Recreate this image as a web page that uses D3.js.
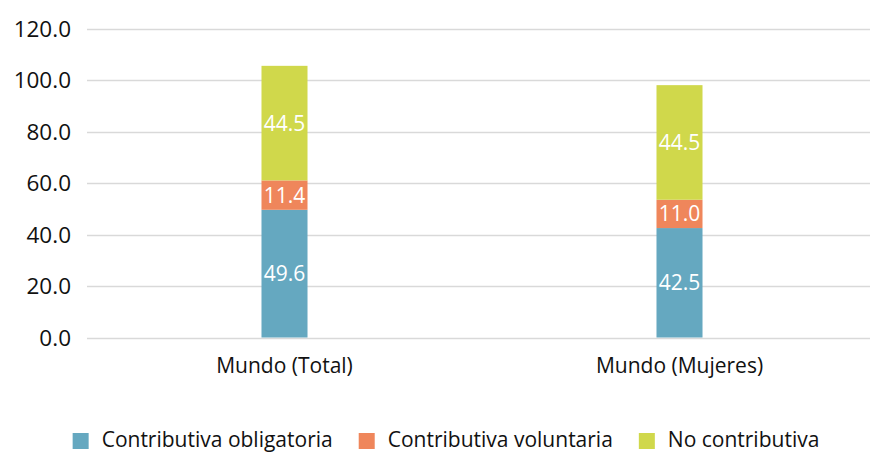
<!DOCTYPE html>
<html>
<head>
<meta charset="utf-8">
<script src="https://cdn.jsdelivr.net/npm/d3@7"></script>
<style>
  body { margin: 0; background: #fff; }
  svg { display: block; font-family: "Open Sans", "Noto Sans", sans-serif; }
</style>
</head>
<body>
<svg id="chart" width="870" height="453"></svg>
<script>
// data
const categories = ["Mundo (Total)", "Mundo (Mujeres)"];
const seriesNames = ["Contributiva obligatoria", "Contributiva voluntaria", "No contributiva"];
const obligatoria = [49.6, 42.5];
const voluntaria = [11.4, 11.0];
const noContributiva = [44.5, 44.5];
const yTicks = [0, 20, 40, 60, 80, 100, 120];

const colors = ["#65a8c0", "#ef865b", "#d0d84b"];

const rows = categories.map((c, i) => ({
  cat: c,
  [seriesNames[0]]: obligatoria[i],
  [seriesNames[1]]: voluntaria[i],
  [seriesNames[2]]: noContributiva[i]
}));

const svg = d3.select("#chart");

const x = d3.scaleBand()
  .domain(categories)
  .range([87, 877])
  .paddingInner(0.8835)
  .paddingOuter(0.8835 / 2);

const y = d3.scaleLinear().domain([0, 120]).range([337.5, 28.5]);

const color = d3.scaleOrdinal().domain(seriesNames).range(colors);

// gridlines
svg.append("g")
  .selectAll("line")
  .data(yTicks)
  .join("line")
  .attr("x1", 87)
  .attr("x2", 870)
  .attr("y1", d => Math.round(y(d)) + 0.5)
  .attr("y2", d => Math.round(y(d)) + 0.5)
  .attr("stroke", "#d9d9d9")
  .attr("stroke-width", 1.3);

// y tick labels
svg.append("g")
  .selectAll("text")
  .data(yTicks)
  .join("text")
  .attr("x", 71)
  .attr("y", d => y(d) + 8)
  .attr("text-anchor", "end")
  .attr("font-size", 22.5)
  .attr("fill", "#111")
  .text(d => d3.format(".1f")(d));

// stacked bars
const stacked = d3.stack().keys(seriesNames)(rows);

const layer = svg.append("g")
  .selectAll("g")
  .data(stacked)
  .join("g")
  .attr("fill", d => color(d.key));

layer.selectAll("rect")
  .data(d => d)
  .join("rect")
  .attr("x", d => x(d.data.cat))
  .attr("width", x.bandwidth())
  .attr("y", d => y(d[1]))
  .attr("height", d => y(d[0]) - y(d[1]));

layer.selectAll("text")
  .data(d => d)
  .join("text")
  .attr("x", d => x(d.data.cat) + x.bandwidth() / 2)
  .attr("y", d => (y(d[0]) + y(d[1])) / 2 + 7.5)
  .attr("text-anchor", "middle")
  .attr("font-size", 21)
  .attr("fill", "#fff")
  .text(d => d3.format(".1f")(d[1] - d[0]));

// category labels
svg.append("g")
  .selectAll("text")
  .data(categories)
  .join("text")
  .attr("x", d => x(d) + x.bandwidth() / 2)
  .attr("y", 373)
  .attr("text-anchor", "middle")
  .attr("font-size", 21)
  .attr("fill", "#111")
  .text(d => d);

// legend
const legend = svg.append("g");
const items = legend.selectAll("g")
  .data(seriesNames)
  .join("g");

items.append("rect")
  .attr("width", 16)
  .attr("height", 16)
  .attr("y", 433)
  .attr("fill", d => color(d));

items.append("text")
  .attr("x", 29)
  .attr("y", 447)
  .attr("font-size", 21)
  .attr("fill", "#111")
  .text(d => d);

let offset = 0;
const widths = [];
items.each(function () {
  const w = 29 + d3.select(this).select("text").node().getComputedTextLength();
  widths.push(w);
});
const gap = 26;
const total = d3.sum(widths) + gap * (widths.length - 1);
const start = 446 - total / 2;
items.attr("transform", (d, i) => {
  const t = `translate(${start + offset},0)`;
  offset += widths[i] + gap;
  return t;
});
</script>
</body>
</html>
